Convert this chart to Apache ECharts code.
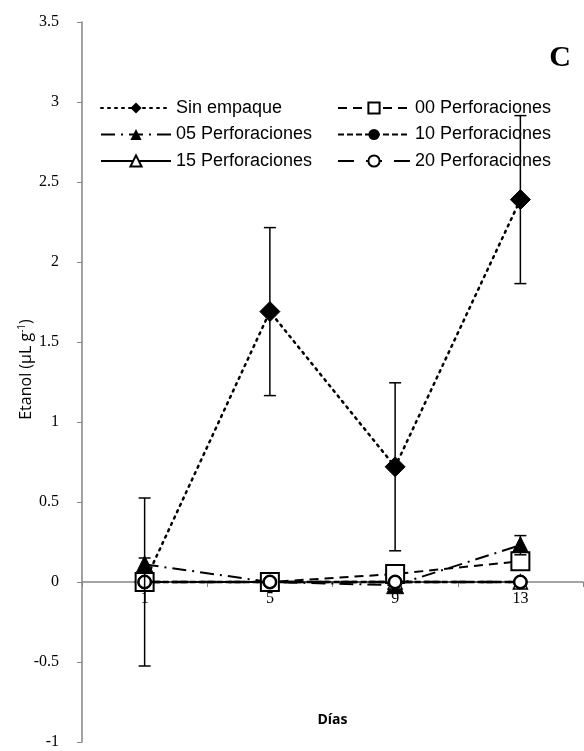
<!DOCTYPE html>
<html>
<head>
<meta charset="utf-8">
<script src="https://cdn.jsdelivr.net/npm/echarts@6/dist/echarts.min.js"></script>
<style>html,body{margin:0;padding:0;background:#fff}#c{width:584px;height:751px}</style>
</head>
<body>
<div id="c"></div>
<script>
const days = ['1', '5', '9', '13'];
const sinEmpaque = [0, 1.69, 0.72, 2.39];
const sinEmpaqueErr = [0.525, 0.525, 0.525, 0.525];
const perf00 = [0, 0, 0.05, 0.13];
const perf05 = [0.11, 0, -0.02, 0.23];
const perf05Err = [0.04, 0, 0, 0.06];
const perf10 = [0, 0, 0, 0];
const perf15 = [0, 0, 0, 0];
const perf20 = [0, 0, 0, 0];
const yMin = -1, yMax = 3.5, yStep = 0.5;

const W = 584, H = 751;
const gridTop = 22, gridBottom = 9;
const plotH = H - gridTop - gridBottom;
// place the category axis on the y = 0 line
const zeroOffset = -plotH * (0 - yMin) / (yMax - yMin);

const chart = echarts.init(document.getElementById('c'), null, {renderer: 'canvas'});

function errData(vals, errs) {
  return vals.map((v, i) => [i, v - errs[i], v + errs[i], errs[i]]).filter(d => d[3] > 0);
}
function errSeries(vals, errs, z) {
  return {
    type: 'custom',
    z: z,
    silent: true,
    data: errData(vals, errs),
    renderItem: function (params, api) {
      const lo = api.coord([api.value(0), api.value(1)]);
      const hi = api.coord([api.value(0), api.value(2)]);
      const cap = 6;
      const st = {stroke: '#000', lineWidth: 1.5};
      return {
        type: 'group',
        children: [
          {type: 'line', shape: {x1: lo[0], y1: lo[1], x2: hi[0], y2: hi[1]}, style: st},
          {type: 'line', shape: {x1: lo[0] - cap, y1: lo[1], x2: lo[0] + cap, y2: lo[1]}, style: st},
          {type: 'line', shape: {x1: hi[0] - cap, y1: hi[1], x2: hi[0] + cap, y2: hi[1]}, style: st}
        ]
      };
    }
  };
}

const legendText = {fontFamily: 'Liberation Sans, Arial, sans-serif', fontSize: 18, color: '#000'};

const option = {
  animation: false,
  backgroundColor: '#fff',
  title: {
    text: 'C', right: 8, top: 38,
    textStyle: {fontFamily: 'Liberation Serif, Times New Roman, serif', fontWeight: 'bold', fontSize: 30, color: '#000'}
  },
  legend: [
    {
      data: ['Sin empaque', '05 Perforaciones', '15 Perforaciones'],
      orient: 'vertical', left: 100, top: 99, padding: 0,
      itemWidth: 70, itemHeight: 14, itemGap: 8.5,
      textStyle: legendText, selectedMode: false
    },
    {
      data: ['00 Perforaciones', '10 Perforaciones', '20 Perforaciones'],
      orient: 'vertical', left: 337, top: 99, padding: 0,
      itemWidth: 72, itemHeight: 14, itemGap: 8.5,
      textStyle: legendText, selectedMode: false
    }
  ],
  grid: {left: 82, right: 1, top: gridTop, bottom: gridBottom, containLabel: false, outerBoundsMode: 'none'},
  xAxis: {
    type: 'category',
    data: days,
    boundaryGap: true,
    position: 'bottom',
    offset: zeroOffset,
    axisLine: {onZero: false, lineStyle: {color: '#868686', width: 1.5}},
    axisTick: {show: true, alignWithLabel: false, length: 5, lineStyle: {color: '#868686'}},
    axisLabel: {fontFamily: 'Liberation Serif, Times New Roman, serif', fontSize: 16, color: '#000', margin: 9},
    name: 'Días',
    nameLocation: 'middle',
    nameGap: 131,
    nameMoveOverlap: false,
    nameTextStyle: {fontFamily: 'Open Sans, sans-serif', fontWeight: 'bold', fontSize: 14, color: '#000'},
    splitLine: {show: false}
  },
  yAxis: {
    type: 'value',
    min: yMin, max: yMax, interval: yStep,
    axisLine: {show: true, lineStyle: {color: '#868686', width: 1.5}},
    axisTick: {show: true, length: 5, lineStyle: {color: '#868686'}},
    axisLabel: {fontFamily: 'Liberation Serif, Times New Roman, serif', fontSize: 16, color: '#000', margin: 23},
    splitLine: {show: false},
    name: '{a|Etanol (µL g}{s|-1}{a|)}',
    nameLocation: 'middle',
    nameGap: 47,
    nameRotate: 90,
    nameMoveOverlap: false,
    nameTextStyle: {
      padding: [0, 0, 0, 25],
      rich: {
        a: {fontFamily: 'Open Sans, sans-serif', fontSize: 16, color: '#000'},
        s: {fontFamily: 'Open Sans, sans-serif', fontSize: 10, color: '#000', verticalAlign: 'top', padding: [0, 0, 8, 0]}
      }
    }
  },
  series: [
    {
      name: 'Sin empaque', type: 'line', data: sinEmpaque, z: 2,
      symbol: 'diamond', symbolSize: 20,
      lineStyle: {color: '#000', width: 2.5, type: [2, 5], cap: 'round'},
      itemStyle: {color: '#000', borderColor: '#000'}
    },
    {
      name: '05 Perforaciones', type: 'line', data: perf05, z: 3,
      symbol: 'triangle', symbolSize: 17,
      lineStyle: {color: '#000', width: 2, type: [14, 6, 2, 6]},
      itemStyle: {color: '#000', borderColor: '#000'}
    },
    {
      name: '15 Perforaciones', type: 'line', data: perf15, z: 4,
      symbol: 'triangle', symbolSize: 14,
      lineStyle: {color: '#000', width: 1, type: 'solid'},
      itemStyle: {color: '#fff', borderColor: '#000', borderWidth: 1.5}
    },
    {
      name: '00 Perforaciones', type: 'line', data: perf00, z: 5,
      symbol: 'rect', symbolSize: 18,
      lineStyle: {color: '#000', width: 2, type: [9, 6]},
      itemStyle: {color: '#fff', borderColor: '#000', borderWidth: 2}
    },
    {
      name: '10 Perforaciones', type: 'line', data: perf10, z: 6,
      symbol: 'circle', symbolSize: 14,
      lineStyle: {color: '#000', width: 2.5, type: [6, 3]},
      itemStyle: {color: '#000', borderColor: '#000'}
    },
    {
      name: '20 Perforaciones', type: 'line', data: perf20, z: 7,
      symbol: 'circle', symbolSize: 12,
      lineStyle: {color: '#000', width: 2.5, type: [16, 12]},
      itemStyle: {color: '#fff', borderColor: '#000', borderWidth: 2}
    },
    errSeries(sinEmpaque, sinEmpaqueErr, 8),
    errSeries(perf05, perf05Err, 8)
  ]
};
chart.setOption(option);
</script>
</body>
</html>
